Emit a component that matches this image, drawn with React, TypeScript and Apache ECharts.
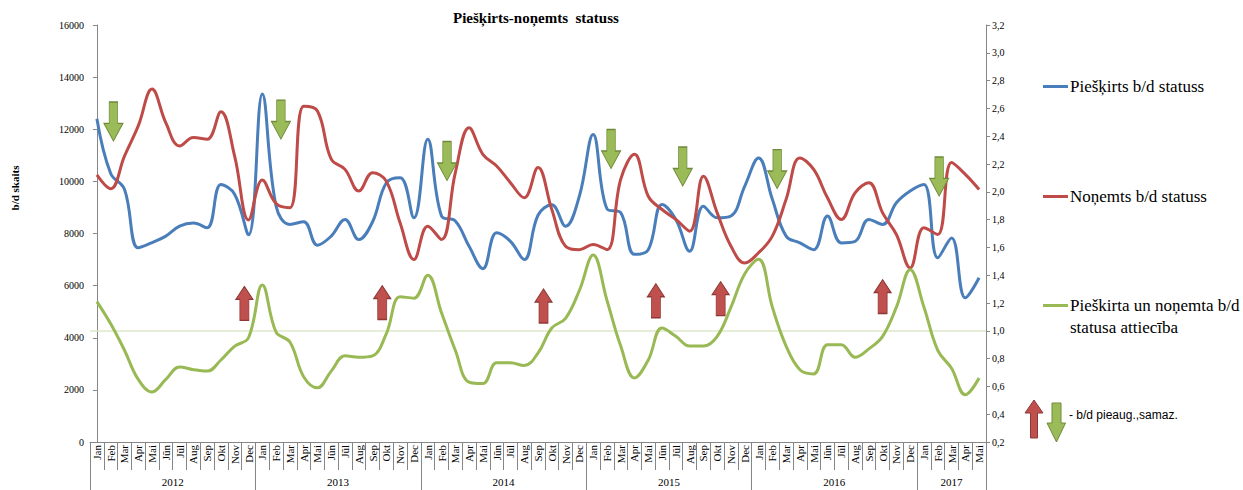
import React, { useEffect, useRef } from "react";
import * as echarts from "echarts";

const SERIF = "'Liberation Serif', 'Times New Roman', serif";
const SANS = "'Liberation Sans', Arial, sans-serif";
const AX = "#868686";

const monthNames = ["Jan", "Feb", "Mar", "Apr", "Mai", "Jūn", "Jūl", "Aug", "Sep", "Okt", "Nov", "Dec"];
const years = ["2012", "2013", "2014", "2015", "2016", "2017"];
const monthsPerYear = [12, 12, 12, 12, 12, 5];

const categories: string[] = years.flatMap((_, k) => monthNames.slice(0, monthsPerYear[k]));

const nameGranted = "Piešķirts b/d statuss";
const nameRemoved = "Noņemts b/d statuss";
const nameRatio = "Pieškirta un noņemta b/d statusa attiecība";

// Piešķirts b/d statuss (left axis)
const granted = [
  12400, 10300, 9700, 7450, 7650, 7900, 8280, 8400, 8220, 9880, 9500, 7950,
  13350, 9050, 8350, 8450, 7550, 7900, 8540, 7770, 8450, 9950, 10140, 8600,
  11620, 8670, 8480, 7510, 6650, 8030, 7700, 7000, 8700, 9100, 8280, 9430,
  11800, 8950, 8800, 7200, 7380, 9115, 8540, 7320, 9050, 8600, 8670, 9820,
  10900, 9310, 7900, 7640, 7380, 8670, 7640, 7700, 8540, 8350, 9180, 9630,
  9880, 7070, 7830, 5530, 6300,
];

// Noņemts b/d statuss (left axis)
const removed = [
  10250, 9720, 10970, 12130, 13540, 12250, 11360, 11680, 11620, 12670, 10950, 8520,
  10050, 9150, 8990, 12880, 12700, 10850, 10460, 9630, 10330, 10000, 8400, 7000,
  8280, 7770, 10330, 12060, 11040, 10590, 9950, 9370, 10530, 8920, 7510, 7380,
  7580, 7380, 10080, 11040, 9430, 8920, 8540, 8090, 10200, 8790, 7510, 6870,
  7260, 7900, 9310, 10900, 10460, 9370, 8540, 9560, 9950, 8790, 7960, 6680,
  8220, 7960, 10720, 10270, 9690,
];

// Attiecība (right axis)
const ratio = [
  1.21, 1.05, 0.86, 0.65, 0.56, 0.65, 0.74, 0.72, 0.71, 0.79, 0.89, 0.95,
  1.33, 0.99, 0.92, 0.67, 0.59, 0.71, 0.82, 0.81, 0.82, 0.98, 1.245, 1.235,
  1.4, 1.13, 0.86, 0.63, 0.62, 0.77, 0.77, 0.75, 0.84, 1.02, 1.09, 1.29,
  1.545, 1.22, 0.89, 0.66, 0.79, 1.02, 0.96, 0.89, 0.89, 0.96, 1.17, 1.41,
  1.515, 1.17, 0.89, 0.72, 0.69, 0.9, 0.9, 0.81, 0.87, 0.96, 1.17, 1.44,
  1.17, 0.86, 0.73, 0.54, 0.66,
];

const ratioReference = 1.0;

// annotation arrows: [month position (fractional index), left-axis value]
const downArrows = [
  [1.2, 12300], [13.35, 12370], [25.4, 10780], [37.3, 11240],
  [42.5, 10570], [49.35, 10470], [61.1, 10190],
];
const upArrows = [
  [10.7, 5320], [20.7, 5350], [32.4, 5220], [40.55, 5420], [45.25, 5500], [57.0, 5580],
];

const yearStarts: number[] = [];
monthsPerYear.reduce((acc, n) => {
  yearStarts.push(acc);
  return acc + n;
}, 0);
const yearBounds = [...yearStarts.map((s) => s - 0.5), categories.length - 0.5];
const yearCenters = yearStarts.map((s, k) => s + monthsPerYear[k] / 2 - 0.5);

const DOWN_PATH = "path://M5,0 L13,0 L13,22 L18,22 L9,40 L0,22 L5,22 Z";
const UP_PATH = "path://M4,34 L4,13 L0,13 L8.5,0 L17,13 L13,13 L13,34 Z";

export default function App() {
  const ref = useRef<HTMLDivElement>(null);

  useEffect(() => {
    if (!ref.current) return;
    const chart = echarts.init(ref.current, undefined, { renderer: "svg" });

    const legendBase = (name: string, top: number) => ({
      data: [name],
      left: 1043,
      top,
      padding: 0,
      icon: "rect",
      itemWidth: 25,
      itemHeight: 3,
      itemGap: 0,
      selectedMode: false,
      formatter: (n: string) => (n === nameRatio ? "Pieškirta un noņemta b/d" : n),
      textStyle: { fontFamily: SERIF, fontSize: 17, color: "#000", padding: [0, 0, 0, -3] },
    });

    const option: any = {
      animation: false,
      backgroundColor: "#fff",
      textStyle: { fontFamily: SERIF },
      title: {
        text: "Piešķirts-noņemts  statuss",
        left: 453,
        top: 10,
        padding: 0,
        textStyle: { fontFamily: SERIF, fontSize: 15, fontWeight: "bold", color: "#000" },
      },
      grid: { left: 90, right: 257, top: 25, bottom: 48, containLabel: false },
      legend: [
        legendBase(nameGranted, 78),
        legendBase(nameRemoved, 188),
        legendBase(nameRatio, 297),
      ],
      xAxis: [
        {
          type: "category",
          data: categories,
          boundaryGap: true,
          axisLine: { lineStyle: { color: AX, width: 1 } },
          axisTick: { show: true, interval: 0, length: 28, lineStyle: { color: AX } },
          axisLabel: {
            interval: 0,
            rotate: 90,
            margin: 3,
            fontFamily: SERIF,
            fontSize: 11,
            color: "#000",
          },
          splitLine: { show: false },
        },
        {
          type: "value",
          min: -0.5,
          max: categories.length - 0.5,
          position: "bottom",
          offset: 28,
          axisLine: { show: false },
          splitLine: { show: false },
          axisTick: {
            show: true,
            customValues: yearBounds,
            length: 20,
            lineStyle: { color: AX },
          },
          axisLabel: {
            customValues: yearCenters,
            margin: 6,
            fontFamily: SERIF,
            fontSize: 11,
            color: "#000",
            formatter: (v: number) => {
              const k = yearCenters.findIndex((c) => Math.abs(c - v) < 0.01);
              return k >= 0 ? years[k] : "";
            },
          },
        },
      ],
      yAxis: [
        {
          type: "value",
          min: 0,
          max: 16000,
          interval: 2000,
          axisLine: { show: true, lineStyle: { color: AX } },
          axisTick: { show: true, length: 4, lineStyle: { color: AX } },
          splitLine: { show: false },
          axisLabel: {
            fontFamily: SERIF,
            fontSize: 10,
            color: "#000",
            margin: 6,
            formatter: (v: number) => String(v),
          },
        },
        {
          type: "value",
          position: "right",
          min: 0.2,
          max: 3.2,
          interval: 0.2,
          axisLine: { show: true, lineStyle: { color: AX } },
          axisTick: { show: true, length: 4, lineStyle: { color: AX } },
          splitLine: { show: false },
          axisLabel: {
            fontFamily: SERIF,
            fontSize: 10,
            color: "#000",
            margin: 6,
            formatter: (v: number) => v.toFixed(1).replace(".", ","),
          },
        },
      ],
      series: [
        {
          name: nameGranted,
          type: "line",
          data: granted,
          smooth: 0.4,
          showSymbol: false,
          xAxisIndex: 0,
          yAxisIndex: 0,
          color: "#4A7EBB",
          lineStyle: { width: 3, color: "#4A7EBB" },
        },
        {
          name: nameRemoved,
          type: "line",
          data: removed,
          smooth: 0.4,
          showSymbol: false,
          xAxisIndex: 0,
          yAxisIndex: 0,
          color: "#BE4B48",
          lineStyle: { width: 3, color: "#BE4B48" },
        },
        {
          name: nameRatio,
          type: "line",
          data: ratio,
          smooth: 0.4,
          showSymbol: false,
          xAxisIndex: 0,
          yAxisIndex: 1,
          color: "#98B954",
          lineStyle: { width: 3, color: "#98B954" },
          markLine: {
            silent: true,
            symbol: "none",
            label: { show: false },
            lineStyle: { color: "#DDE8C8", width: 1.5, type: "solid" },
            data: [{ yAxis: ratioReference }],
            z: 1,
          },
        },
        {
          name: "down",
          type: "scatter",
          xAxisIndex: 1,
          yAxisIndex: 0,
          data: downArrows,
          symbol: DOWN_PATH,
          symbolSize: [19, 39],
          symbolKeepAspect: false,
          itemStyle: { color: "#9BBB59", borderColor: "#6E8A3A", borderWidth: 1, opacity: 1 },
          z: 5,
          silent: true,
        },
        {
          name: "up",
          type: "scatter",
          xAxisIndex: 1,
          yAxisIndex: 0,
          data: upArrows,
          symbol: UP_PATH,
          symbolSize: [17, 34],
          symbolKeepAspect: false,
          itemStyle: { color: "#C0504D", borderColor: "#8C3836", borderWidth: 1, opacity: 1 },
          z: 5,
          silent: true,
        },
      ],
      graphic: [
        {
          type: "text",
          x: 15,
          y: 188,
          rotation: Math.PI / 2,
          style: {
            text: "b/d skaits",
            font: `bold 11px ${SERIF}`,
            fill: "#000",
            textAlign: "center",
            textVerticalAlign: "middle",
          },
        },
        {
          type: "text",
          x: 1070,
          y: 327,
          style: {
            text: "statusa attiecība",
            font: `17px ${SERIF}`,
            fill: "#000",
            textAlign: "left",
            textVerticalAlign: "middle",
          },
        },
        {
          type: "polygon",
          shape: {
            points: [
              [1030.5, 438], [1030.5, 413], [1025, 413], [1034, 400],
              [1043, 413], [1037.5, 413], [1037.5, 438],
            ],
          },
          style: { fill: "#C0504D", stroke: "#8C3836", lineWidth: 1 },
        },
        {
          type: "polygon",
          shape: {
            points: [
              [1052, 403], [1061, 403], [1061, 423], [1065.5, 423],
              [1056.5, 442], [1047, 423], [1052, 423],
            ],
          },
          style: { fill: "#9BBB59", stroke: "#6E8A3A", lineWidth: 1 },
        },
        {
          type: "text",
          x: 1069,
          y: 415,
          style: {
            text: "- b/d pieaug.,samaz.",
            font: `12px ${SANS}`,
            fill: "#000",
            textAlign: "left",
            textVerticalAlign: "middle",
          },
        },
      ],
    };

    chart.setOption(option);
    return () => chart.dispose();
  }, []);

  return (
    <div
      ref={ref}
      style={{ position: "fixed", left: 0, top: 0, width: 1243, height: 490, background: "#fff" }}
    />
  );
}
